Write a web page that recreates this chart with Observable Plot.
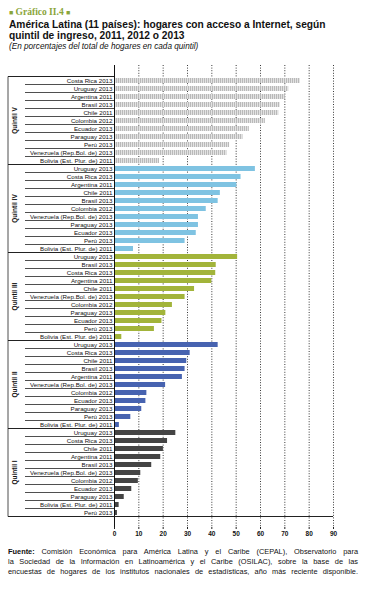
<!DOCTYPE html>
<html><head><meta charset="utf-8">
<script src="https://cdn.jsdelivr.net/npm/d3@7"></script>
<script src="https://cdn.jsdelivr.net/npm/@observablehq/plot@0.6"></script>
<style>
html,body{margin:0;padding:0}
body{width:366px;height:595px;position:relative;background:#fff;font-family:"Liberation Sans",Arial,sans-serif;color:#111;overflow:hidden}
#kicker{position:absolute;left:9px;top:7px;font-family:"Liberation Serif",serif;font-weight:bold;font-size:9.5px;color:#8aa53a;white-space:nowrap}
#kicker span{font-size:7px}
#title{position:absolute;left:9px;top:19px;font-weight:bold;font-size:10.2px;line-height:11px;white-space:nowrap}
#subtitle{position:absolute;left:9px;top:42px;font-style:italic;font-size:8.2px;white-space:nowrap}
#chart{position:absolute;left:0;top:58px;width:366px;height:483px}
#chart svg{max-width:none !important;display:block}
#foot{position:absolute;left:8px;top:547px;width:350px;font-size:7.4px;line-height:10px}
#foot div{text-align:justify;text-align-last:justify;white-space:nowrap}
</style></head><body>
<div id="kicker"><span>■</span> Gráfico II.4 <span>■</span></div>
<div id="title">América Latina (11 países): hogares con acceso a Internet, según<br>quintil de ingreso, 2011, 2012 o 2013</div>
<div id="subtitle">(En porcentajes del total de hogares en cada quintil)</div>
<div id="chart"></div>
<div id="foot">
<div><b>Fuente:</b> Comisión Económica para América Latina y el Caribe (CEPAL), Observatorio para</div>
<div>la Sociedad de la Información en Latinoamérica y el Caribe (OSILAC), sobre la base de las</div>
<div>encuestas de hogares de los institutos nacionales de estadísticas, año más reciente disponible.</div>
</div>
<script>
const groups = ["Quintil V","Quintil IV","Quintil III","Quintil II","Quintil I"];
const q5Countries = ["Costa Rica 2013","Uruguay 2013","Argentina 2011","Brasil 2013","Chile 2011","Colombia 2012","Ecuador 2013","Paraguay 2013","Perú 2013","Venezuela (Rep.Bol. de) 2013","Bolivia (Est. Plur. de) 2011"];
const q5Values = [76.4,71.6,70.2,68.1,67.5,62.0,55.4,52.8,47.3,46.2,18.5];
const q4Countries = ["Uruguay 2013","Costa Rica 2013","Argentina 2011","Chile 2011","Brasil 2013","Colombia 2012","Venezuela (Rep.Bol. de) 2013","Paraguay 2013","Ecuador 2013","Perú 2013","Bolivia (Est. Plur. de) 2011"];
const q4Values = [57.9,52.0,50.3,43.5,42.6,37.7,34.5,34.5,33.6,29.0,7.8];
const q3Countries = ["Uruguay 2013","Brasil 2013","Costa Rica 2013","Argentina 2011","Chile 2011","Venezuela (Rep.Bol. de) 2013","Colombia 2012","Paraguay 2013","Ecuador 2013","Perú 2013","Bolivia (Est. Plur. de) 2011"];
const q3Values = [50.6,41.8,41.6,40.0,32.9,29.0,23.8,21.1,19.5,16.4,3.0];
const q2Countries = ["Uruguay 2013","Costa Rica 2013","Chile 2011","Brasil 2013","Argentina 2011","Venezuela (Rep.Bol. de) 2013","Colombia 2012","Ecuador 2013","Paraguay 2013","Perú 2013","Bolivia (Est. Plur. de) 2011"];
const q2Values = [42.6,31.1,29.7,29.0,27.9,21.0,13.3,12.9,11.2,6.7,2.0];
const q1Countries = ["Uruguay 2013","Costa Rica 2013","Chile 2011","Argentina 2011","Brasil 2013","Venezuela (Rep.Bol. de) 2013","Colombia 2012","Ecuador 2013","Paraguay 2013","Bolivia (Est. Plur. de) 2011","Perú 2013"];
const q1Values = [25.2,21.8,20.1,19.0,15.3,10.8,9.8,7.1,4.0,1.9,1.2];
const xTicks = [0,10,20,30,40,50,60,70,80,90];
const groupColors = ["url(#q5pat)","#7fc3e2","#a2b43a","#4763b0","#444444"];

const series = [[q5Countries,q5Values],[q4Countries,q4Values],[q3Countries,q3Values],[q2Countries,q2Values],[q1Countries,q1Values]];
const rows = [];
series.forEach(([cs,vs],gi)=>cs.forEach((c,i)=>rows.push({group:groups[gi],country:c,value:vs[i],key:groups[gi]+"|"+c})));

const plot = Plot.plot({
  width:366, height:483,
  marginLeft:114, marginRight:33, marginTop:7, marginBottom:14,
  style:{fontFamily:"'Liberation Sans',Arial,sans-serif",fontSize:"6px",color:"#111",background:"#fff",maxWidth:"none"},
  x:{domain:[0,90]},
  y:{domain:rows.map(d=>d.key),paddingInner:0.4,paddingOuter:0.2},
  color:{type:"ordinal",domain:groups,range:groupColors},
  marks:[
    Plot.gridX(xTicks.filter(d=>d>0),{stroke:"#222",strokeOpacity:1,strokeWidth:0.9,strokeDasharray:"1,1.6"}),
    Plot.barX(rows,{y:"key",x:"value",fill:"group"}),
    Plot.ruleX([0],{stroke:"#111",strokeWidth:1}),
    Plot.axisX({ticks:xTicks,tickSize:2,tickPadding:2,fontWeight:"bold",fontSize:6.5,label:null,stroke:"#222"}),
    Plot.axisY({tickSize:0,tickPadding:2,label:null,tickFormat:k=>k.split("|")[1],fontSize:6.2})
  ]
});
document.getElementById("chart").appendChild(plot);

const svg = d3.select(plot);
const defs = svg.insert("defs",":first-child");
const pat = defs.append("pattern").attr("id","q5pat").attr("patternUnits","userSpaceOnUse").attr("width",2).attr("height",8);
pat.append("rect").attr("width",2).attr("height",8).attr("fill","#e2e2e2");
pat.append("rect").attr("width",1).attr("height",8).attr("fill","#b9b9b9");

const y = plot.scale("y"), x = plot.scale("x");
const off = (y.step - y.bandwidth)/2;
const x0 = x.apply(0);
const g = svg.append("g").attr("stroke","#222").attr("stroke-width",0.8);
rows.forEach((r,i)=>{
  const yy = y.apply(r.key) - off;
  const first = i===0 || rows[i-1].group!==r.group;
  g.append("line").attr("x1",first?8:25).attr("x2",x0).attr("y1",yy).attr("y2",yy).attr("stroke-width",first?1:0.8);
});
const last = rows[rows.length-1];
const yb = y.apply(last.key)+y.bandwidth+off;
g.append("line").attr("x1",8).attr("x2",x.apply(90)).attr("y1",yb).attr("y2",yb).attr("stroke-width",1);
const yt = y.apply(rows[0].key)-off;
g.append("line").attr("x1",8).attr("x2",8).attr("y1",yt).attr("y2",yb);
groups.forEach(gr=>{
  const ks = rows.filter(r=>r.group===gr);
  const a = y.apply(ks[0].key)-off, b = y.apply(ks[ks.length-1].key)+y.bandwidth+off;
  svg.append("text").attr("transform",`translate(16.5,${(a+b)/2}) rotate(-90)`)
    .attr("text-anchor","middle").attr("font-weight","bold").attr("font-size",6.5).attr("fill","#111").text(gr);
});
</script>
</body></html>
